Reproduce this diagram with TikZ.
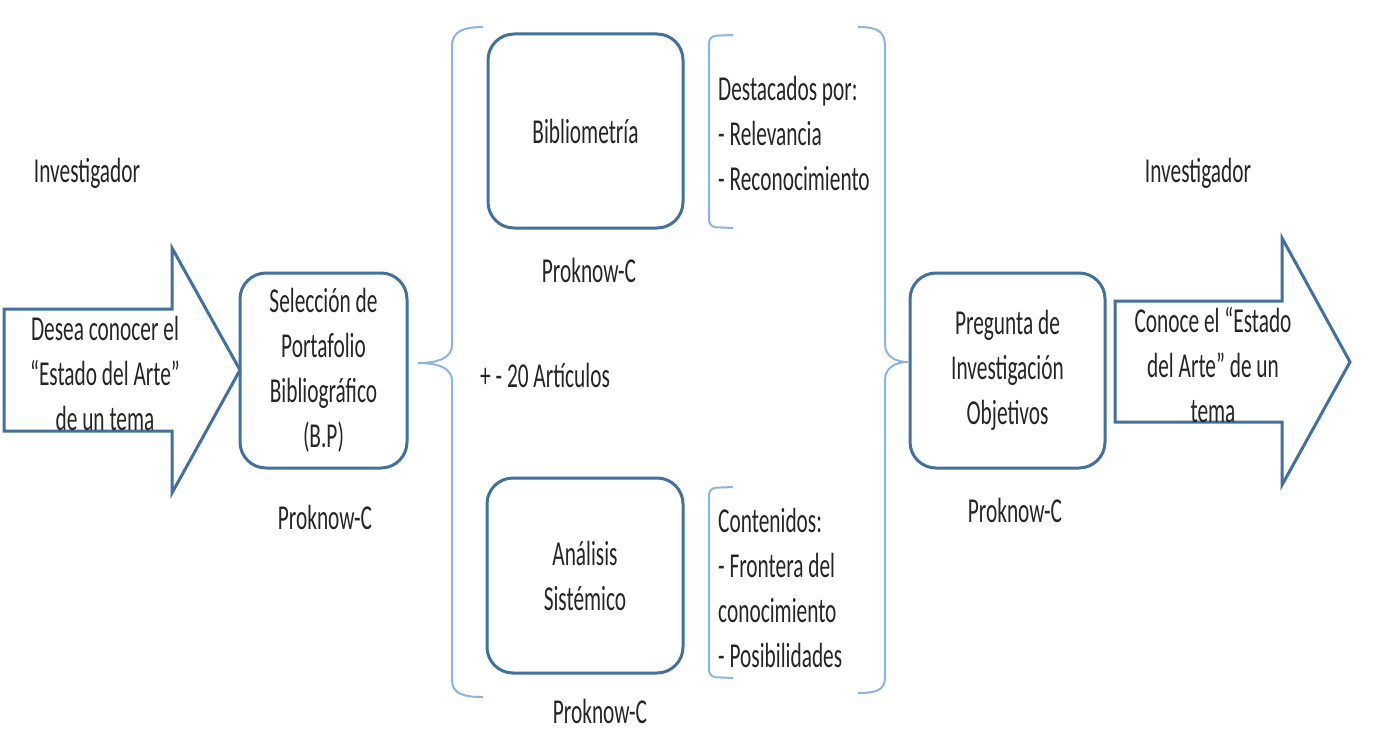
\documentclass[tikz,border=0pt]{standalone}
\usepackage{fontspec}
\setmainfont{Carlito}[FakeStretch=0.61]
\definecolor{boxblue}{HTML}{41719C}
\definecolor{braceblue}{HTML}{8DB4E2}
\definecolor{txt}{HTML}{262626}
\begin{document}
\begin{tikzpicture}[x=1bp,y=-1bp,
  every node/.style={text=txt,font=\fontsize{35bp}{45bp}\selectfont,inner sep=0pt},
  roundbox/.style={draw=boxblue,line width=3bp,rounded corners=26bp,align=center},
  blockarrow/.style={draw=boxblue,line width=3bp,fill=white,line join=miter},
  brace/.style={draw=braceblue,line width=2bp},
  lbl/.style={align=center},
  lst/.style={align=left,anchor=west}]
\useasboundingbox[fill=white] (0,0) rectangle (1380,738);

% block arrows
\draw[blockarrow] (4,309) -- (172,309) -- (172,248) -- (240,370) -- (172,493) -- (172,431) -- (4,431) -- cycle;
\draw[blockarrow] (1115,301) -- (1282,301) -- (1282,238) -- (1350,362) -- (1282,485) -- (1282,422) -- (1115,422) -- cycle;

% boxes
\node[roundbox,minimum width=167bp,minimum height=195bp] (sel) at (323.5,370.5) {Selección de\\Portafolio\\Bibliográfico\\(B.P)};
\node[roundbox,minimum width=195bp,minimum height=194bp] (bib) at (585.5,131) {Bibliometría};
\node[roundbox,minimum width=196bp,minimum height=195bp] (ana) at (585,575.5) {Análisis\\Sistémico};
\node[roundbox,minimum width=195bp,minimum height=195bp] (preg) at (1007.5,370.5) {Pregunta de\\Investigación\\Objetivos};

% braces
\draw[brace] (483,27) .. controls (464,27) and (452,31) .. (452,46) -- (452,345) .. controls (452,357) and (440,363) .. (418,363) .. controls (440,363) and (452,369) .. (452,381) -- (452,680) .. controls (452,694) and (464,697) .. (483,697);
\draw[brace] (858,27) .. controls (877,27) and (885,31) .. (885,46) -- (885,344) .. controls (885,356) and (895,362) .. (908,362) .. controls (895,362) and (885,368) .. (885,380) -- (885,677) .. controls (885,690) and (877,693) .. (858,693);
\draw[brace,rounded corners=7bp] (733,35) -- (709,36) -- (709,227) -- (733,228);
\draw[brace,rounded corners=7bp] (733,487) -- (709,488) -- (709,677) -- (733,678);

% texts
\node[lbl] (inv1) at (87,173) {Investigador};
\node[lbl] (inv2) at (1198,173) {Investigador};
\node[lbl] (desea) at (105,373) {Desea conocer el\\“Estado del Arte”\\de un tema};
\node[lbl] (conoce) at (1213,365) {Conoce el “Estado\\del Arte” de un\\tema};
\node[lbl] (pk1) at (325,517) {Proknow-C};
\node[lbl] (pk2) at (589,270) {Proknow-C};
\node[lbl] (pk3) at (600,711) {Proknow-C};
\node[lbl] (pk4) at (1015,510) {Proknow-C};
\node[lst] (art) at (480,375) {+ - 20 Artículos};
\node[lst] (dest) at (718,133) {Destacados por:\\- Relevancia\\- Reconocimiento};
\node[lst] (cont) at (718,588) {Contenidos:\\- Frontera del\\conocimiento\\- Posibilidades};
\end{tikzpicture}
\end{document}
